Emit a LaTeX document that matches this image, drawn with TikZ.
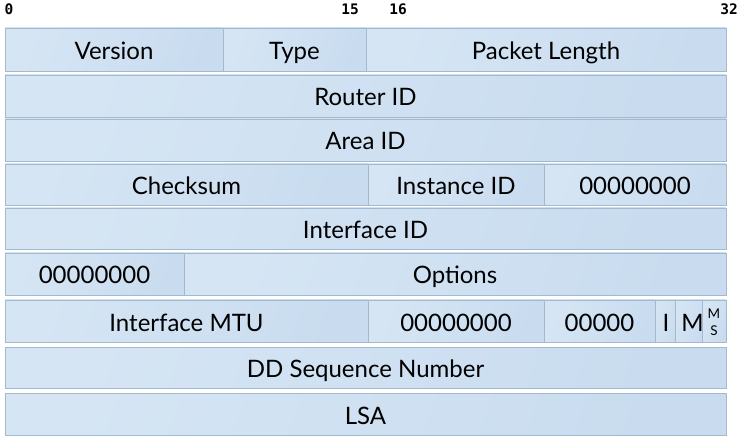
\documentclass[tikz,border=0pt]{standalone}
\usepackage{fontspec}
\setmainfont{Lato}
\newfontfamily\bitfont[BoldFont={DejaVu Sans Mono Bold}]{DejaVu Sans Mono}
\usetikzlibrary{shadows}
\definecolor{cellfillA}{HTML}{D5E5F4}
\definecolor{cellfillB}{HTML}{C9DCEF}
\definecolor{cellline}{HTML}{A3B9CE}
\tikzset{
  cell/.style={rectangle, draw=cellline, line width=0.8pt,
    left color=cellfillA, right color=cellfillB, shading angle=70,
    inner sep=0pt, text height=20pt, text depth=0pt,
    font=\fontsize{24}{28}\selectfont, text=black,
    drop shadow={shadow xshift=1.2pt, shadow yshift=-1.2pt, opacity=0.35, fill=black!60}},
  smallbit/.style={font=\fontsize{13.5}{14}\selectfont, inner sep=0pt, text=black},
  bitlabel/.style={font=\bitfont\bfseries\fontsize{14.5}{16}\selectfont, inner sep=0pt}
}
% \fieldcell{name}{x left}{x right}{y top}{y bottom}{text}
\newcommand\fieldcell[6]{%
  \node[cell, minimum width={(#3-#2)*1pt}, minimum height={(#5-#4)*1pt}]
    (#1) at ({(#2+#3)/2},{(#4+#5)/2}) {#6};}
\begin{document}
\begin{tikzpicture}[x=1pt, y=-1pt]
\useasboundingbox (0,0) rectangle (741,443);

% bit positions
\node[bitlabel] (b0)  at (9,9)   {0};
\node[bitlabel] (b15) at (350,9) {15};
\node[bitlabel] (b16) at (398,9) {16};
\node[bitlabel] (b32) at (729,9) {32};

% row 1
\fieldcell{version}{5}{223}{28}{71}{Version}
\fieldcell{type}{223}{366}{28}{71}{Type}
\fieldcell{plen}{366}{726}{28}{71}{Packet Length}
% row 2
\fieldcell{rid}{5}{726}{75}{117}{Router ID}
% row 3
\fieldcell{aid}{5}{726}{119}{161}{Area ID}
% row 4
\fieldcell{csum}{5}{368}{164}{205}{Checksum}
\fieldcell{inst}{368}{544}{164}{205}{Instance ID}
\fieldcell{zeroA}{544}{726}{164}{205}{00000000}
% row 5
\fieldcell{ifid}{5}{726}{208}{249}{Interface ID}
% row 6
\fieldcell{zeroB}{5}{184}{253}{295}{00000000}
\fieldcell{opts}{184}{726}{253}{295}{Options}
% row 7
\fieldcell{mtu}{5}{368}{300}{342}{Interface MTU}
\fieldcell{zeroC}{368}{544}{300}{342}{00000000}
\fieldcell{zeroD}{544}{655}{300}{342}{00000}
\fieldcell{ibit}{655}{677}{300}{342}{I}
\fieldcell{mbit}{677}{702}{300}{342}{\hspace*{6pt}M}
\fieldcell{msbit}{702}{726}{300}{342}{}
\node[smallbit] (msM) at (714,314) {M};
\node[smallbit] (msS) at (714,331) {S};
% row 8
\fieldcell{ddseq}{5}{726}{347}{388}{DD Sequence Number}
% row 9
\fieldcell{lsa}{5}{726}{393}{435}{LSA}
\end{tikzpicture}
\end{document}
